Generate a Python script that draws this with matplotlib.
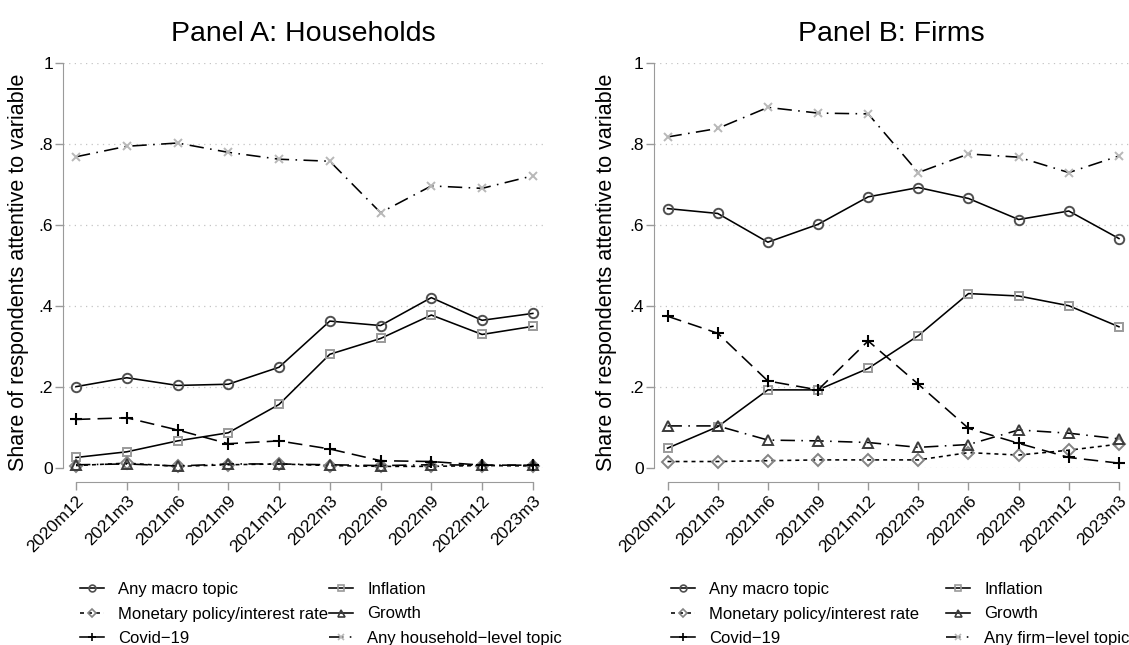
import matplotlib
matplotlib.use("Agg")
import matplotlib.pyplot as plt
from matplotlib.lines import Line2D

plt.rcParams["font.family"] = ["Liberation Sans", "DejaVu Sans"]

months = ["2020m12", "2021m3", "2021m6", "2021m9", "2021m12",
          "2022m3", "2022m6", "2022m9", "2022m12", "2023m3"]

# Panel A: households
hh_macro = [0.201, 0.223, 0.204, 0.207, 0.249, 0.363, 0.352, 0.421, 0.365, 0.382]
hh_inflation = [0.026, 0.040, 0.067, 0.087, 0.157, 0.281, 0.320, 0.378, 0.330, 0.350]
hh_monetary = [0.006, 0.012, 0.004, 0.008, 0.010, 0.006, 0.004, 0.004, 0.006, 0.005]
hh_growth = [0.008, 0.010, 0.005, 0.010, 0.010, 0.008, 0.006, 0.008, 0.007, 0.007]
hh_covid = [0.120, 0.124, 0.094, 0.060, 0.067, 0.047, 0.018, 0.016, 0.007, 0.007]
hh_own = [0.769, 0.795, 0.803, 0.780, 0.763, 0.758, 0.631, 0.697, 0.691, 0.722]

# Panel B: firms
firm_macro = [0.641, 0.629, 0.558, 0.602, 0.670, 0.693, 0.666, 0.614, 0.635, 0.567]
firm_inflation = [0.049, 0.102, 0.193, 0.193, 0.246, 0.327, 0.431, 0.425, 0.401, 0.349]
firm_monetary = [0.016, 0.016, 0.018, 0.020, 0.020, 0.020, 0.038, 0.032, 0.044, 0.059]
firm_growth = [0.104, 0.104, 0.069, 0.067, 0.063, 0.051, 0.058, 0.094, 0.086, 0.072]
firm_covid = [0.375, 0.333, 0.215, 0.193, 0.314, 0.207, 0.098, 0.061, 0.026, 0.012]
firm_own = [0.818, 0.839, 0.891, 0.877, 0.875, 0.730, 0.776, 0.768, 0.730, 0.771]

y_ticks = [0, 0.2, 0.4, 0.6, 0.8, 1.0]
y_ticklabels = ["0", ".2", ".4", ".6", ".8", "1"]

# series styles: marker, marker edge colour, line style, marker size
styles = {
    "macro": dict(marker="o", mec="#505050", ls="-", ms=6.8),
    "inflation": dict(marker="s", mec="#9a9a9a", ls="-", ms=6.2),
    "monetary": dict(marker="D", mec="#858585", ls=(0, (2.5, 2.5)), ms=6.2),
    "growth": dict(marker="^", mec="#3c3c3c", ls=(0, (9, 4, 1, 4)), ms=7),
    "covid": dict(marker="+", mec="black", ls=(0, (9, 4.5)), ms=8.5),
    "own": dict(marker="x", mec="#b8b8b8", ls=(0, (9, 4, 1, 4)), ms=5.5),
}

W, H = 1129, 645
fig = plt.figure(figsize=(W / 100, H / 100), dpi=100)


def px_axes(left, right, top, bottom):
    return fig.add_axes([left / W, 1 - bottom / H, (right - left) / W, (bottom - top) / H])


def draw_panel(ax, title, series, xlo, ylab_x):
    x = list(range(len(months)))
    keys = ["macro", "inflation", "monetary", "growth", "covid", "own"]
    for k in keys:
        st = styles[k]
        ax.plot(x, series[k], color="black", lw=1.15, ls=st["ls"],
                marker=st["marker"], ms=st["ms"], mfc="none", mec=st["mec"],
                mew=1.4 if k != "covid" else 1.5, clip_on=False, zorder=3)
    ax.set_xlim(xlo, 9.2)
    ax.set_ylim(0, 1)
    for y in y_ticks:
        ax.axhline(y, color="#c4c4c4", lw=0.9, ls=(0, (1, 3.5)), zorder=1)
    for s in ["top", "right"]:
        ax.spines[s].set_visible(False)
    ax.spines["left"].set_color("#9a9a9a")
    ax.spines["bottom"].set_color("#9a9a9a")
    ax.spines["left"].set_bounds(0, 1)
    ax.spines["bottom"].set_position(("outward", 10))
    ax.spines["bottom"].set_bounds(0, 9)
    ax.tick_params(axis="both", colors="#9a9a9a", labelcolor="black",
                   labelsize=12.5, length=5.5, width=1)
    ax.tick_params(axis="y", pad=2)
    ax.tick_params(axis="x", pad=2.5)
    ax.set_yticks(y_ticks)
    ax.set_yticklabels(y_ticklabels)
    ax.set_xticks(x)
    ax.set_xticklabels(months)
    for lab in ax.get_xticklabels():
        lab.set_rotation(45)
        lab.set_ha("right")
        lab.set_rotation_mode("anchor")
    ax.set_title(title, fontsize=20.5, pad=16)
    ax.set_ylabel("Share of respondents attentive to variable", fontsize=15.5)
    ax.yaxis.set_label_coords(ylab_x, 0.484)


axA = px_axes(63.3, 543, 63.3, 468)
axB = px_axes(654, 1129, 63.3, 468)

draw_panel(axA, "Panel A: Households",
           dict(macro=hh_macro, inflation=hh_inflation, monetary=hh_monetary,
                growth=hh_growth, covid=hh_covid, own=hh_own),
           -0.25, (29 - 63.3) / (543 - 63.3))
draw_panel(axB, "Panel B: Firms",
           dict(macro=firm_macro, inflation=firm_inflation, monetary=firm_monetary,
                growth=firm_growth, covid=firm_covid, own=firm_own),
           -0.27, (617 - 654) / (1129 - 654))


def handle(k):
    st = styles[k]
    ls = st["ls"] if k in ("monetary", "own") else "-"
    return Line2D([], [], color="black", lw=1.15, ls=ls,
                  marker=st["marker"], ms=st["ms"] * 0.72, mfc="none", mec=st["mec"], mew=1.2)


def legend_column(keys, labels, x0, y0):
    fig.legend([handle(k) for k in keys], labels, loc="upper left",
               bbox_to_anchor=(x0 / W, 1 - y0 / H), bbox_transform=fig.transFigure,
               frameon=False, borderpad=0, borderaxespad=0, fontsize=12,
               handlelength=1.45, handletextpad=0.85, labelspacing=0.57)


legend_column(["macro", "monetary", "covid"],
              ["Any macro topic", "Monetary policy/interest rate", "Covid\u221219"], 80, 582)
legend_column(["inflation", "growth", "own"],
              ["Inflation", "Growth", "Any household\u2212level topic"], 329, 582)
legend_column(["macro", "monetary", "covid"],
              ["Any macro topic", "Monetary policy/interest rate", "Covid\u221219"], 671, 582)
legend_column(["inflation", "growth", "own"],
              ["Inflation", "Growth", "Any firm\u2212level topic"], 946, 582)

fig.savefig("out.png", dpi=100, facecolor="white")
